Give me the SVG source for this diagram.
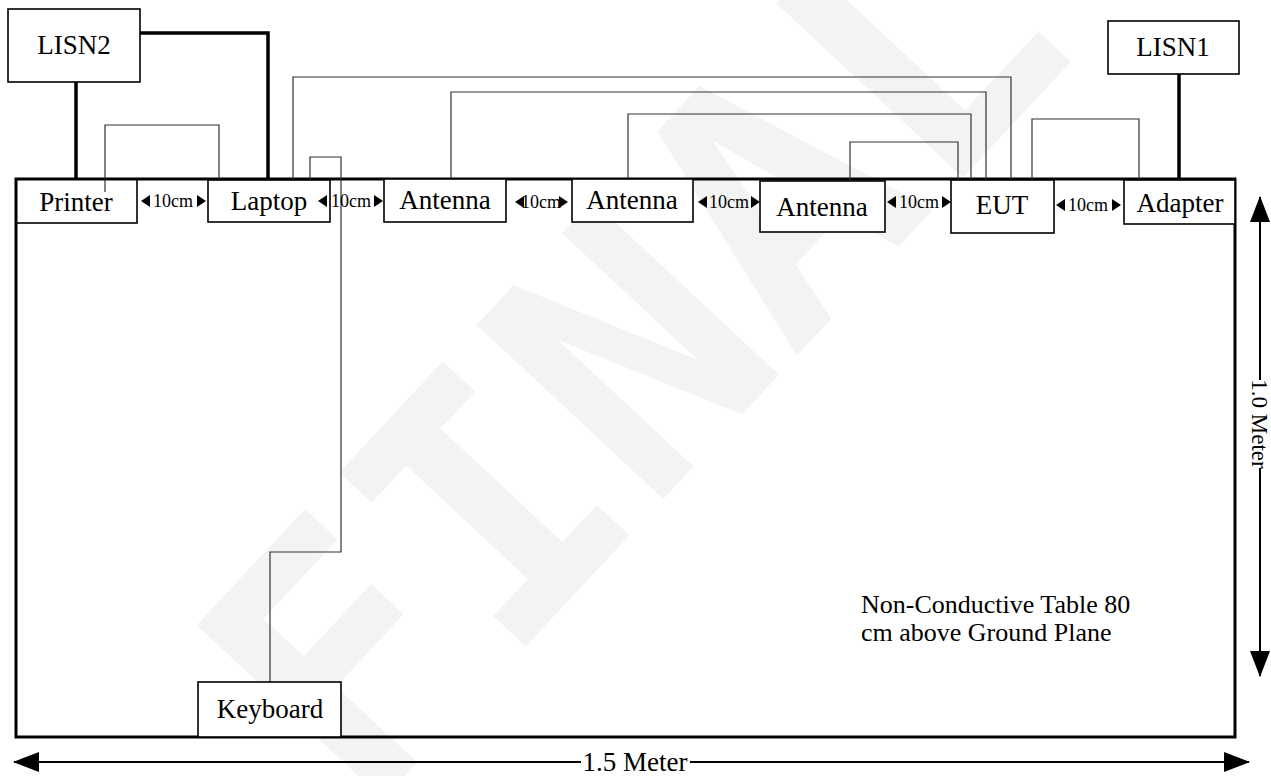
<svg xmlns="http://www.w3.org/2000/svg" xmlns:xlink="http://www.w3.org/1999/xlink" width="1271" height="776" viewBox="0 0 1271 776">
<style>
.box{fill:#fff;stroke:#000;stroke-width:1.6}
.lbl{font-family:"Liberation Serif","Times New Roman",serif;font-size:27px;fill:#000;text-anchor:middle}
.vlbl{font-family:"Liberation Serif","Times New Roman",serif;font-size:23px;fill:#000;text-anchor:middle}
.cm{font-family:"Liberation Serif","Times New Roman",serif;font-size:18px;fill:#000;text-anchor:middle}
.note{font-family:"Liberation Serif","Times New Roman",serif;font-size:26px;fill:#000}
.thick{fill:none;stroke:#000;stroke-width:3.5}
.thin{fill:none;stroke:#333;stroke-width:1.2}
.dim{fill:none;stroke:#000;stroke-width:2}
.wm{font-family:"DejaVu Sans Mono",monospace;font-weight:bold;font-size:350px;fill:#f3f3f3}
</style>
<defs>
<path id="tl" d="M0,0 L9,-6 L9,6 Z" fill="#000"/>
<path id="tr" d="M0,0 L-9,-6 L-9,6 Z" fill="#000"/>
<marker id="ah" viewBox="0 0 26 20" refX="25" refY="10" markerWidth="26" markerHeight="20" markerUnits="userSpaceOnUse" orient="auto-start-reverse">
<path d="M0,0 L26,10 L0,20 Z" fill="#000"/>
</marker>
</defs>
<rect width="1271" height="776" fill="#fff"/>
<text class="wm" transform="translate(362,822) rotate(-47)">FINAL</text>

<rect id="table" x="16" y="179" width="1219" height="558" fill="none" stroke="#000" stroke-width="3"/>

<g id="connectors">
<polyline class="thick" points="140,33 268,33 268,179"/>
<line class="thick" x1="76" y1="82" x2="76" y2="179"/>
<line class="thick" x1="1179" y1="74" x2="1179" y2="180"/>
<polyline class="thin" points="105,192 105,125 219,125 219,180"/>
<polyline class="thin" points="293,180 293,77 1011,77 1011,180"/>
<polyline class="thin" points="451,179 451,92 986,92 986,180"/>
<polyline class="thin" points="628,179 628,114 971,114 971,180"/>
<polyline class="thin" points="850,181 850,142 958,142 958,180"/>
<polyline class="thin" points="1032,180 1032,119 1139,119 1139,180"/>
<polyline class="thin" points="310,180 310,157 341,157 341,552 270,552 270,682"/>
</g>

<g id="lisn2"><rect class="box" x="8" y="9" width="132" height="73"/><text class="lbl" x="74" y="54">LISN2</text></g>
<g id="lisn1"><rect class="box" x="1108" y="21" width="131" height="53"/><text class="lbl" x="1173" y="56">LISN1</text></g>
<g id="printer"><rect class="box" x="16" y="179" width="121" height="44" fill-opacity="0"/><text class="lbl" x="76" y="211">Printer</text></g>
<g id="laptop"><rect class="box" x="208" y="180" width="122" height="42"/><text class="lbl" x="269" y="210">Laptop</text></g>
<g id="antenna1"><rect class="box" x="384" y="179" width="122" height="43"/><text class="lbl" x="445" y="209">Antenna</text></g>
<g id="antenna2"><rect class="box" x="572" y="179" width="121" height="43"/><text class="lbl" x="632" y="209">Antenna</text></g>
<g id="antenna3"><rect class="box" x="760" y="181" width="125" height="51"/><text class="lbl" x="822" y="216">Antenna</text></g>
<g id="eut"><rect class="box" x="951" y="180" width="103" height="53"/><text class="lbl" x="1002" y="214">EUT</text></g>
<g id="adapter"><rect class="box" x="1124" y="180" width="111" height="44"/><text class="lbl" x="1180" y="212">Adapter</text></g>
<g id="keyboard"><rect class="box" x="198" y="682" width="143" height="55"/><text class="lbl" x="270" y="718">Keyboard</text></g>

<g id="spacing">
<use xlink:href="#tl" x="141" y="201"/><text class="cm" x="173" y="207">10cm</text><use xlink:href="#tr" x="206" y="201"/>
<use xlink:href="#tl" x="318" y="201"/><text class="cm" x="351" y="207">10cm</text><use xlink:href="#tr" x="383" y="201"/>
<use xlink:href="#tl" x="515" y="202"/><text class="cm" x="541" y="208">10cm</text><use xlink:href="#tr" x="568" y="202"/>
<use xlink:href="#tl" x="698" y="202"/><text class="cm" x="729" y="208">10cm</text><use xlink:href="#tr" x="760" y="202"/>
<use xlink:href="#tl" x="887" y="202"/><text class="cm" x="919" y="208">10cm</text><use xlink:href="#tr" x="951" y="202"/>
<use xlink:href="#tl" x="1056" y="205"/><text class="cm" x="1088" y="211">10cm</text><use xlink:href="#tr" x="1121" y="205"/>
</g>

<g id="note">
<text class="note" x="861" y="613">Non-Conductive Table 80</text>
<text class="note" x="861" y="641">cm above Ground Plane</text>
</g>

<g id="dimensions">
<line class="dim" x1="14" y1="762" x2="581" y2="762" marker-start="url(#ah)"/>
<line class="dim" x1="690" y1="762" x2="1249" y2="762" marker-end="url(#ah)"/>
<text class="lbl" x="635" y="771">1.5 Meter</text>
<line class="dim" x1="1260" y1="197" x2="1260" y2="380" marker-start="url(#ah)"/>
<line class="dim" x1="1260" y1="468" x2="1260" y2="676" marker-end="url(#ah)"/>
<text class="vlbl" transform="translate(1252,424) rotate(90)">1.0 Meter</text>
</g>
</svg>
